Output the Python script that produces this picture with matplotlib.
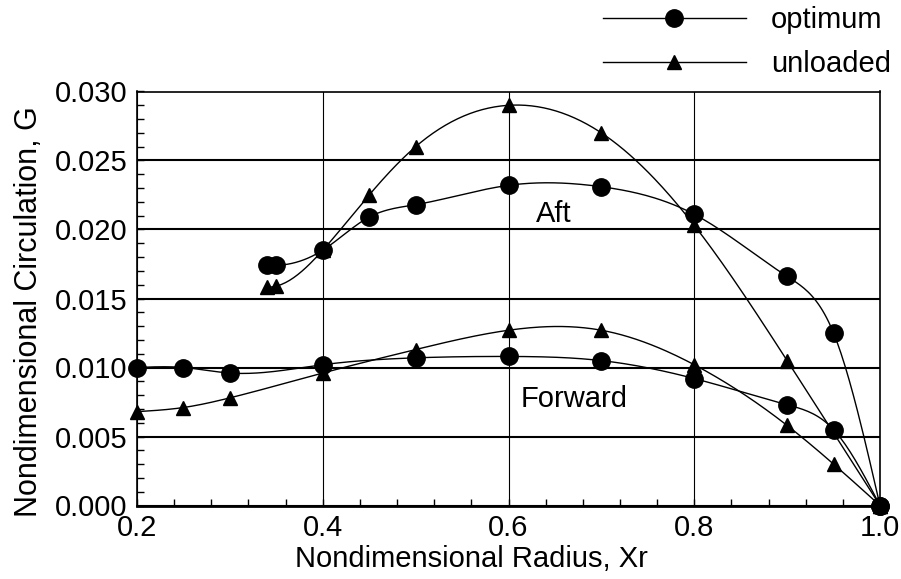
import numpy as np
import matplotlib
matplotlib.use("Agg")
import matplotlib.pyplot as plt
from matplotlib.lines import Line2D
from matplotlib.ticker import FixedLocator, MultipleLocator

plt.rcParams['font.family'] = ['Liberation Sans', 'DejaVu Sans']

# values
x_fwd = [0.2, 0.25, 0.3, 0.4, 0.5, 0.6, 0.7, 0.8, 0.9, 0.95, 1.0]
fwd_optimum = [0.0100, 0.0100, 0.0096, 0.0102, 0.0107, 0.0108, 0.0105, 0.0092, 0.0073, 0.0055, 0.0]
fwd_unloaded = [0.0068, 0.0071, 0.0078, 0.0096, 0.0113, 0.0127, 0.0127, 0.0102, 0.0058, 0.0030, 0.0]

x_aft_opt = [0.34, 0.35, 0.4, 0.45, 0.5, 0.6, 0.7, 0.8, 0.9, 0.95, 1.0]
aft_optimum = [0.0174, 0.0174, 0.0185, 0.0209, 0.0218, 0.0232, 0.0231, 0.0211, 0.0166, 0.0125, 0.0]
x_aft_unl = [0.34, 0.35, 0.4, 0.45, 0.5, 0.6, 0.7, 0.8, 0.9, 1.0]
aft_unloaded = [0.0158, 0.0159, 0.0185, 0.0225, 0.0260, 0.0290, 0.0270, 0.0203, 0.0105, 0.0]

x_ticks = [0.2, 0.4, 0.6, 0.8, 1.0]
x_ticklabels = ['0.2', '0.4', '0.6', '0.8', '1.0']
y_ticks = [0.0, 0.005, 0.010, 0.015, 0.020, 0.025, 0.030]
y_ticklabels = ['0.000', '0.005', '0.010', '0.015', '0.020', '0.025', '0.030']


def natural_spline(x, y, n=300):
    """smooth curve through the points (natural cubic spline)"""
    x = np.asarray(x, float)
    y = np.asarray(y, float)
    k = len(x)
    h = np.diff(x)
    A = np.zeros((k, k))
    rhs = np.zeros(k)
    A[0, 0] = 1.0
    A[-1, -1] = 1.0
    for i in range(1, k - 1):
        A[i, i - 1] = h[i - 1]
        A[i, i] = 2 * (h[i - 1] + h[i])
        A[i, i + 1] = h[i]
        rhs[i] = 6 * ((y[i + 1] - y[i]) / h[i] - (y[i] - y[i - 1]) / h[i - 1])
    M = np.linalg.solve(A, rhs)
    xs = np.linspace(x[0], x[-1], n)
    idx = np.clip(np.searchsorted(x, xs) - 1, 0, k - 2)
    x0, x1 = x[idx], x[idx + 1]
    hh = x1 - x0
    a = (x1 - xs) / hh
    b = (xs - x0) / hh
    ys = (a * y[idx] + b * y[idx + 1]
          + ((a ** 3 - a) * M[idx] + (b ** 3 - b) * M[idx + 1]) * hh ** 2 / 6)
    return xs, ys


fig = plt.figure(figsize=(9.01, 5.79), dpi=100)
ax = fig.add_axes([137 / 901, (579 - 505.5) / 579, 743 / 901, 414 / 579])

fs = 21
lw = 1.0

series = [
    (x_fwd, fwd_unloaded, '^', 10),
    (x_aft_unl, aft_unloaded, '^', 10),
    (x_fwd, fwd_optimum, 'o', 12.5),
    (x_aft_opt, aft_optimum, 'o', 12.5),
]
for xs_, ys_, mk, ms in series:
    cx, cy = natural_spline(xs_, ys_)
    ax.plot(cx, cy, color='black', lw=lw, clip_on=False, zorder=3)
    ax.plot(xs_, ys_, linestyle='none', marker=mk, markersize=ms,
            color='black', clip_on=False, zorder=4)

ax.set_xlim(0.2, 1.0)
ax.set_ylim(0.0, 0.030)
ax.xaxis.set_major_locator(FixedLocator(x_ticks))
ax.set_xticklabels(x_ticklabels)
ax.yaxis.set_major_locator(FixedLocator(y_ticks))
ax.set_yticklabels(y_ticklabels)
ax.xaxis.set_minor_locator(MultipleLocator(0.04))
ax.yaxis.set_minor_locator(MultipleLocator(0.001))
ax.tick_params(axis='both', which='both', direction='in', color='black',
               labelsize=fs, top=False, right=False)
ax.tick_params(which='major', length=5, width=1)
ax.tick_params(which='minor', length=5, width=1)
ax.tick_params(axis='x', pad=6)
ax.tick_params(axis='y', pad=7)

# grid: horizontal lines heavier than vertical ones
ax.grid(axis='y', which='major', color='black', lw=1.5)
ax.grid(axis='x', which='major', color='black', lw=0.8)
ax.set_axisbelow(True)
for side in ['left', 'top', 'right']:
    ax.spines[side].set_linewidth(1.2)
ax.spines['bottom'].set_linewidth(2.0)

ax.set_xlabel('Nondimensional Radius, Xr', fontsize=fs)
ax.set_ylabel('Nondimensional Circulation, G', fontsize=22)
ax.xaxis.set_label_coords(0.45, -0.095)
ax.yaxis.set_label_coords(-0.125, 0.469)

ax.text(0.649, 0.0211, 'Aft', fontsize=fs, ha='center', va='center')
ax.text(0.671, 0.0077, 'Forward', fontsize=fs, ha='center', va='center')

handles = [
    Line2D([], [], color='black', lw=lw, marker='o', markersize=12.5),
    Line2D([], [], color='black', lw=lw, marker='^', markersize=10),
]
fig.legend(handles, ['optimum', 'unloaded'], loc='upper left',
           bbox_to_anchor=(603 / 901, 1 - 6 / 579), frameon=False,
           fontsize=fs, handlelength=4.9, handletextpad=0.85,
           borderpad=0, borderaxespad=0, labelspacing=0.55)

fig.savefig('out.png', dpi=100)
